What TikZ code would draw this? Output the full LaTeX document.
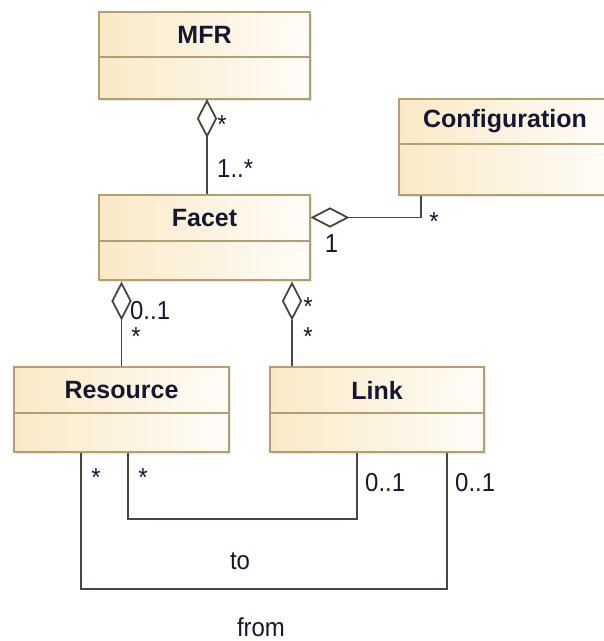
\documentclass[tikz,border=0pt]{standalone}
\usepackage{fontspec}
\setmainfont{Liberation Sans}
\newfontfamily\lblfont[FakeStretch=0.92]{Liberation Sans}
\usetikzlibrary{shapes.geometric,shadows,calc}
\definecolor{boxL}{RGB}{249,233,198}
\definecolor{boxR}{RGB}{255,253,248}
\definecolor{boxBorder}{RGB}{178,158,112}
\definecolor{connC}{RGB}{74,70,62}
\definecolor{txtC}{RGB}{22,22,48}
\tikzset{
  classbox/.style={rectangle, draw=boxBorder, line width=1.8pt, left color=boxL, right color=boxR,
    drop shadow={shadow xshift=1.5pt, shadow yshift=-1.5pt, fill=black!18, draw=none},
    inner sep=0pt, text width=0pt},
  divider/.style={draw=boxBorder, line width=1.8pt},
  classtitle/.style={inner sep=0pt, text=txtC, font=\bfseries\fontsize{25}{30}\selectfont},
  conn/.style={draw=connC, line width=1.8pt},
  aggv/.style={diamond, draw=connC, fill=white, line width=1.8pt, inner sep=0pt, minimum width=19pt, minimum height=36pt},
  aggh/.style={diamond, draw=connC, fill=white, line width=1.8pt, inner sep=0pt, minimum width=36pt, minimum height=19pt},
  lbl/.style={inner sep=0pt, text=txtC, font=\lblfont\fontsize{26}{30}\selectfont},
}
\begin{document}
\begin{tikzpicture}[x=1pt,y=-1pt]
\useasboundingbox (0,0) rectangle (604,641);
\clip (0,0) rectangle (604,641);
% boxes
\node[classbox, minimum width=211pt, minimum height=87pt] (mfr) at (204.5,55.5) {};
\node[classbox, minimum width=211pt, minimum height=85pt] (facet) at (204.5,237.5) {};
\node[classbox, minimum width=212pt, minimum height=96pt] (config) at (505,147) {};
\node[classbox, minimum width=215pt, minimum height=85pt] (res) at (121.5,409.5) {};
\node[classbox, minimum width=214pt, minimum height=85pt] (link) at (377,409.5) {};
% dividers
\draw[divider] (mfr.west |- 0,57) -- (mfr.east |- 0,57);
\draw[divider] (facet.west |- 0,241) -- (facet.east |- 0,241);
\draw[divider] (config.west |- 0,144) -- (config.east |- 0,144);
\draw[divider] (res.west |- 0,413) -- (res.east |- 0,413);
\draw[divider] (link.west |- 0,413) -- (link.east |- 0,413);
% titles
\node[classtitle] (mfrT) at (204.5,34.5) {MFR};
\node[classtitle] (facetT) at (204.5,218) {Facet};
\node[classtitle] (configT) at (505,121.5) {Configuration};
\node[classtitle] (resT) at (121.5,390) {Resource};
\node[classtitle] (linkT) at (377,390) {Link};
% aggregations
\node[aggv] (d1) at (207,118.5) {};
\draw[conn] (d1.south) -- (facet.north -| d1.south);
\node[aggh] (d2) at (330,217.5) {};
\draw[conn] (d2.east) -| ([xshift=-84pt]config.south);
\node[aggv] (d3) at (121.5,301) {};
\draw[conn] (d3.south) -- (res.north);
\node[aggv] (d4) at (292,301) {};
\draw[conn] (d4.south) -- (link.north -| d4.south);
% to / from associations
\draw[conn] ([xshift=6.5pt]res.south) -- ++(0,66) -| ([xshift=-20pt]link.south);
\draw[conn] ([xshift=-40.5pt]res.south) -- ++(0,136) -| ([xshift=70pt]link.south);
% multiplicities
\node[lbl, anchor=base] (m1) at (222,133) {*};
\node[lbl, anchor=base west] (m2) at (217,177) {1..*};
\node[lbl, anchor=base] (m3) at (434,230) {*};
\node[lbl, anchor=base] (m4) at (331.5,252) {1};
\node[lbl, anchor=base west] (m5) at (130,319) {0..1};
\node[lbl, anchor=base] (m6) at (136,345) {*};
\node[lbl, anchor=base] (m7) at (308,315) {*};
\node[lbl, anchor=base] (m8) at (308,345) {*};
\node[lbl, anchor=base] (m9) at (96,486) {*};
\node[lbl, anchor=base] (m10) at (143,486) {*};
\node[lbl, anchor=base west] (m11) at (365,491) {0..1};
\node[lbl, anchor=base west] (m12) at (455,491) {0..1};
\node[lbl, anchor=base] (toL) at (240,569) {to};
\node[lbl, anchor=base] (fromL) at (261,636) {from};
\end{tikzpicture}
\end{document}
